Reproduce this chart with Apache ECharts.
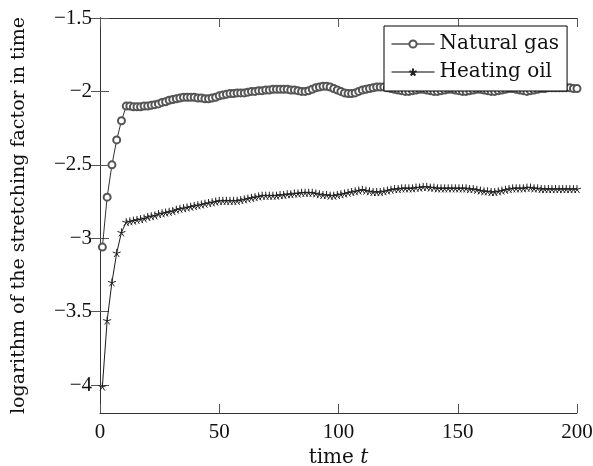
<!DOCTYPE html>
<html>
<head>
<meta charset="utf-8">
<script src="https://cdn.jsdelivr.net/npm/echarts@6/dist/echarts.min.js"></script>
<style>
html,body{margin:0;padding:0;background:#fff;}
#chart{width:593px;height:466px;}
</style>
</head>
<body>
<div id="chart"></div>
<script>
var timeT = [1,3,5,7,9,11,
  12.5,14,15.5,17,18.5,20,21.5,23,24.5,26,
  27.5,29,30.5,32,33.5,35,36.5,38,39.5,41,
  42.5,44,45.5,47,48.5,50,51.5,53,54.5,56,
  57.5,59,60.5,62,63.5,65,66.5,68,69.5,71,
  72.5,74,75.5,77,78.5,80,81.5,83,84.5,86,
  87.5,89,90.5,92,93.5,95,96.5,98,99.5,101,
  102.5,104,105.5,107,108.5,110,111.5,113,114.5,116,
  117.5,119,120.5,122,123.5,125,126.5,128,129.5,131,
  132.5,134,135.5,137,138.5,140,141.5,143,144.5,146,
  147.5,149,150.5,152,153.5,155,156.5,158,159.5,161,
  162.5,164,165.5,167,168.5,170,171.5,173,174.5,176,
  177.5,179,180.5,182,183.5,185,186.5,188,189.5,191,
  192.5,194,195.5,197,198.5,200];

var naturalGas = [-3.06,-2.72,-2.50,-2.33,-2.20,-2.10,
  -2.10,-2.105,-2.105,-2.105,-2.10,-2.10,-2.095,-2.09,-2.085,-2.075,
  -2.07,-2.06,-2.055,-2.05,-2.045,-2.04,-2.04,-2.04,-2.04,-2.045,
  -2.045,-2.05,-2.05,-2.045,-2.04,-2.03,-2.025,-2.02,-2.015,-2.015,
  -2.01,-2.01,-2.01,-2.005,-2.0,-2.0,-1.995,-1.995,-1.99,-1.99,
  -1.985,-1.985,-1.985,-1.985,-1.985,-1.99,-1.99,-1.995,-2.0,-2.0,
  -1.995,-1.985,-1.975,-1.97,-1.965,-1.965,-1.97,-1.98,-1.99,-2.0,
  -2.01,-2.015,-2.015,-2.01,-2.0,-1.99,-1.985,-1.98,-1.975,-1.97,
  -1.97,-1.97,-1.975,-1.98,-1.985,-1.99,-1.995,-2.0,-2.0,-1.995,
  -1.99,-1.985,-1.985,-1.99,-1.995,-2.0,-2.0,-1.995,-1.99,-1.985,
  -1.985,-1.99,-1.995,-2.0,-2.0,-1.995,-1.99,-1.985,-1.985,-1.99,
  -1.995,-2.0,-2.0,-1.995,-1.99,-1.985,-1.98,-1.98,-1.985,-1.99,
  -1.995,-2.0,-1.995,-1.99,-1.985,-1.98,-1.98,-1.975,-1.975,-1.975,
  -1.975,-1.975,-1.975,-1.975,-1.98,-1.98];

var heatingOil = [-4.01,-3.56,-3.30,-3.10,-2.96,-2.89,
  -2.885,-2.88,-2.875,-2.87,-2.865,-2.855,-2.85,-2.845,-2.835,-2.83,
  -2.825,-2.82,-2.815,-2.805,-2.80,-2.795,-2.79,-2.785,-2.78,-2.775,
  -2.77,-2.765,-2.76,-2.755,-2.75,-2.745,-2.745,-2.745,-2.745,-2.745,
  -2.745,-2.74,-2.735,-2.73,-2.725,-2.72,-2.715,-2.71,-2.71,-2.71,
  -2.71,-2.71,-2.705,-2.705,-2.70,-2.70,-2.695,-2.695,-2.69,-2.69,
  -2.69,-2.69,-2.695,-2.70,-2.705,-2.705,-2.71,-2.71,-2.705,-2.70,
  -2.695,-2.69,-2.685,-2.68,-2.675,-2.67,-2.675,-2.68,-2.685,-2.685,
  -2.685,-2.68,-2.675,-2.67,-2.665,-2.665,-2.66,-2.66,-2.66,-2.66,
  -2.655,-2.655,-2.65,-2.65,-2.655,-2.655,-2.66,-2.66,-2.66,-2.66,
  -2.66,-2.66,-2.66,-2.66,-2.66,-2.665,-2.665,-2.67,-2.675,-2.68,
  -2.68,-2.685,-2.685,-2.68,-2.675,-2.67,-2.665,-2.66,-2.66,-2.66,
  -2.66,-2.655,-2.655,-2.66,-2.66,-2.665,-2.665,-2.665,-2.665,-2.665,
  -2.665,-2.665,-2.665,-2.665,-2.665,-2.665];

var xTicks = [0, 50, 100, 150, 200];
var yTicks = [-4, -3.5, -3, -2.5, -2, -1.5];
var seriesNames = ['Natural gas', 'Heating oil'];

function pairs(xs, ys) { return xs.map(function (x, i) { return [x, ys[i]]; }); }

var NUMFONT = 'Liberation Serif';
var TXTFONT = 'DejaVu Serif';
var starPath = 'path://M0,0L0,-1M0,0L0.951,-0.309M0,0L0.588,0.809M0,0L-0.588,0.809M0,0L-0.951,-0.309';

var chart = echarts.init(document.getElementById('chart'), null, {renderer: 'canvas'});
var axisLine = {show: true, lineStyle: {color: '#333', width: 1}};
var tick = {show: true, inside: true, length: 9, lineStyle: {color: '#555', width: 1}};

chart.setOption({
  animation: false,
  backgroundColor: '#fff',
  textStyle: {fontFamily: TXTFONT},
  grid: {left: 100, right: 16, top: 18, bottom: 53, containLabel: false, outerBoundsMode: 'none'},
  legend: {
    data: seriesNames,
    orient: 'vertical',
    left: 384, top: 26,
    padding: [7, 8, 8, 7],
    itemGap: 6,
    itemWidth: 43, itemHeight: 9,
    backgroundColor: '#fff',
    borderColor: '#000', borderWidth: 1,
    lineStyle: {width: 1, color: '#000'},
    textStyle: {fontFamily: TXTFONT, fontSize: 20, color: '#111', lineHeight: 22, width: 118}
  },
  xAxis: [{
    type: 'value', min: 0, max: 200, position: 'bottom',
    axisLine: axisLine,
    axisTick: Object.assign({customValues: xTicks}, tick),
    axisLabel: {customValues: xTicks, fontFamily: NUMFONT, fontSize: 21, color: '#111', margin: 9},
    splitLine: {show: false},
    name: '{a|time }{b|t}', nameLocation: 'middle', nameGap: 32,
    nameTextStyle: {rich: {a: {fontFamily: TXTFONT, fontSize: 20, color: '#111'}, b: {fontFamily: TXTFONT, fontSize: 20, fontStyle: 'italic', color: '#111'}}}
  }, {
    type: 'value', min: 0, max: 200, position: 'top',
    axisLine: axisLine,
    axisTick: Object.assign({customValues: xTicks}, tick),
    axisLabel: {show: false}, splitLine: {show: false}
  }],
  yAxis: [{
    type: 'value', min: -4.19, max: -1.5, position: 'left',
    axisLine: axisLine,
    axisTick: Object.assign({customValues: yTicks}, tick),
    axisLabel: {customValues: yTicks, fontFamily: NUMFONT, fontSize: 21, color: '#111', margin: 8,
      formatter: function (v) { return String(v).replace('-', '\u2212'); }},
    splitLine: {show: false},
    name: 'logarithm of the stretching factor in time', nameLocation: 'middle', nameGap: 71,
    nameTextStyle: {fontFamily: TXTFONT, fontSize: 19, color: '#111'}
  }, {
    type: 'value', min: -4.19, max: -1.5, position: 'right',
    axisLine: axisLine,
    axisTick: Object.assign({customValues: yTicks}, tick),
    axisLabel: {show: false}, splitLine: {show: false}
  }],
  series: [{
    name: seriesNames[0], type: 'line',
    data: pairs(timeT, naturalGas),
    symbol: 'emptyCircle', symbolSize: 7, showAllSymbol: true,
    lineStyle: {color: '#000', width: 0.8},
    itemStyle: {color: '#555', borderColor: '#555', borderWidth: 0.8},
    z: 2
  }, {
    name: seriesNames[1], type: 'line',
    data: pairs(timeT, heatingOil),
    symbol: starPath, symbolSize: 8, showAllSymbol: true,
    lineStyle: {color: '#000', width: 0.9},
    itemStyle: {color: 'rgba(0,0,0,0)', borderColor: '#222', borderWidth: 1},
    z: 2
  }]
});
</script>
</body>
</html>
